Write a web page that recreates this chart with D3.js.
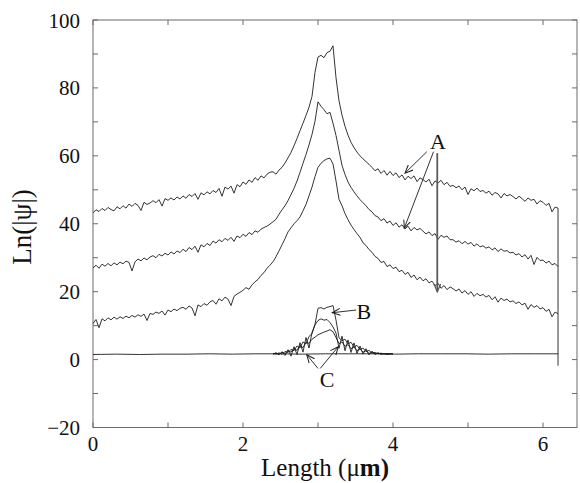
<!DOCTYPE html>
<html><head><meta charset="utf-8">
<script src="https://cdn.jsdelivr.net/npm/d3@7"></script>
<style>
html,body{margin:0;padding:0;background:#fff;}
svg{display:block;font-family:"Liberation Serif","Times New Roman",serif;}
</style></head>
<body><svg id="chart" width="580" height="483"></svg>
<script>
// ---------- data ----------
const xStep = 0.04;           // sample spacing of the main curves (µm)
const xTicks = [0, 2, 4, 6];
const yTicks = [-20, 0, 20, 40, 60, 80, 100];

const curveTop = [
 43.2,44.1,43.6,44.5,43.9,44.8,44.2,43.8,45.0,44.4,
 45.3,44.6,45.8,45.1,46.0,45.4,43.9,46.3,45.7,46.1,
 46.8,46.2,47.1,45.2,47.4,46.9,47.6,47.0,47.9,47.3,
 48.2,47.5,48.6,48.0,48.9,47.2,49.1,48.5,49.4,48.8,
 49.8,49.2,50.4,48.1,50.8,50.2,51.1,49.0,51.5,50.9,
 52.3,51.6,52.9,52.2,53.6,52.8,54.1,53.5,54.6,55.2,
 55.3,54.6,55.8,56.6,57.9,59.4,61.0,63.0,65.1,67.4,
 69.6,71.9,74.3,77.5,84.6,89.1,89.6,88.9,90.4,90.8,
 92.4,83.0,76.2,72.0,68.7,66.1,64.0,62.4,61.1,60.0,
 59.1,58.3,57.5,56.6,55.6,56.2,54.8,55.7,54.3,55.4,
 54.2,55.0,53.6,54.4,52.9,54.0,53.3,54.1,52.4,53.5,
 53.0,52.3,53.1,51.2,52.6,52.0,52.8,51.5,52.2,51.0,
 51.3,50.6,51.1,50.0,50.8,48.6,50.3,49.7,50.5,49.5,
 49.8,49.0,49.6,48.4,49.2,48.8,47.6,48.9,48.2,48.6,
 48.0,47.3,48.1,47.4,46.6,47.6,46.9,47.2,45.8,46.8,
 46.3,45.4,46.0,43.5,44.9,44.6
];
const curveMid = [
 27.0,27.8,26.9,28.1,27.5,28.3,27.6,28.5,27.9,28.7,
 28.2,29.0,28.6,26.1,28.8,29.6,29.1,29.9,29.4,30.2,
 30.6,30.0,31.0,30.5,31.3,30.8,31.7,31.1,32.0,31.5,
 32.5,31.8,33.0,32.4,33.4,31.6,33.8,33.2,34.2,33.6,
 34.9,34.3,35.3,34.7,35.7,35.1,36.0,34.8,36.4,35.9,
 36.9,36.3,37.4,36.8,37.9,37.5,38.4,38.9,39.3,39.9,
 40.6,41.3,42.8,44.1,45.3,46.8,48.6,50.4,52.6,55.1,
 57.8,60.4,63.2,66.3,70.2,75.9,74.6,73.6,72.4,72.8,
 69.6,66.0,61.6,57.2,54.5,52.3,50.7,49.4,48.2,47.1,
 46.2,45.3,44.2,43.5,42.4,42.0,40.9,41.5,40.2,40.8,
 39.5,40.3,39.0,39.7,38.5,39.3,37.9,38.9,38.2,38.6,
 37.8,37.0,37.6,36.5,37.1,35.4,36.6,36.0,36.4,35.3,
 35.3,34.6,35.0,34.1,34.8,34.0,34.5,33.4,34.1,33.2,
 33.5,32.8,33.2,32.3,32.9,31.8,32.6,31.9,32.1,31.4,
 31.6,30.8,31.2,30.2,30.9,29.6,30.7,28.0,30.1,29.2,
 29.3,28.4,29.0,27.9,28.3,27.4
];
const curveLow = [
 10.6,11.8,9.4,12.0,11.4,12.3,11.7,12.5,11.9,12.6,
 12.1,12.8,12.3,13.0,12.5,13.2,12.7,13.4,11.5,13.6,
 13.3,14.0,13.6,14.3,13.1,14.6,14.1,14.9,14.4,15.1,
 15.4,14.8,15.8,15.2,12.9,16.1,15.6,16.5,16.0,17.0,
 17.4,16.3,17.9,17.3,18.4,17.8,15.9,18.6,19.3,19.8,
 20.4,21.2,20.7,22.0,22.9,23.6,24.8,25.6,26.9,27.8,
 28.8,30.3,32.0,33.8,35.6,37.6,38.8,40.0,40.9,42.0,
 43.8,45.7,48.2,50.8,53.9,56.6,57.8,58.6,59.1,59.3,
 57.6,52.6,47.2,45.3,43.0,41.2,39.6,38.3,37.1,36.0,
 34.4,33.6,32.4,31.6,30.4,29.8,28.6,28.9,27.4,27.9,
 26.8,27.2,25.9,26.3,25.1,25.7,24.2,24.9,23.5,24.3,
 23.2,23.8,22.6,23.1,21.8,22.5,21.0,21.8,20.6,21.4,
 20.9,20.2,20.8,19.6,20.3,19.2,20.0,18.6,19.5,18.8,
 19.2,18.4,18.9,17.6,18.5,16.9,18.1,17.4,17.8,17.0,
 17.3,16.5,17.0,16.1,16.6,14.8,16.2,15.4,15.9,14.9,
 15.3,14.2,14.8,12.6,14.0,13.5
];

// flat baseline curve (sampled every 0.31 µm from 0 to 6.2)
const baseStep = 0.31;
const baseline = [1.5,1.6,1.5,1.6,1.6,1.7,1.6,1.7,1.7,1.6,1.7,1.7,1.7,1.6,1.7,1.7,1.7,1.6,1.7,1.7,1.7];

// bumps of the low curves, sampled every 0.04 µm from 2.40 to 4.00
const bumpStart = 2.40;
const curveB = [
 1.8,1.6,2.0,1.5,2.4,2.1,3.0,2.6,4.0,3.4,
 5.2,4.6,6.8,7.6,10.4,15.1,15.3,14.9,15.4,15.6,
 15.9,11.6,6.4,5.6,6.0,4.6,5.1,3.7,4.2,3.0,
 3.4,2.4,2.7,1.9,2.1,1.7,1.9,1.6,1.8,1.7,1.7
];
const curveC1 = [
 1.7,1.9,1.5,2.2,1.8,2.6,2.2,3.3,2.7,4.2,
 3.5,5.1,4.8,6.0,6.6,7.3,7.7,8.1,8.4,8.8,
 8.2,6.5,4.7,5.2,3.9,4.4,3.2,3.7,2.6,3.1,
 2.2,2.6,1.8,2.1,1.7,1.9,1.6,1.8,1.6,1.7,1.7
];
const curveC2 = [
 1.6,2.0,1.4,2.3,1.2,2.9,1.0,3.8,1.5,5.0,
 2.2,6.5,3.4,8.0,10.2,11.5,12.0,11.6,11.8,10.9,
 9.6,7.8,3.3,6.9,2.6,5.8,2.1,4.9,1.8,4.0,
 1.6,3.2,1.4,2.5,1.5,2.0,1.6,1.8,1.5,1.7,1.7
];

// vertical line at the end of the computational window
const endLineX = 6.2;
const endLineY = [44.6, -1.8];

// annotations (data coordinates)
const labels = [
 {text:"A", x:4.60, y:64.2},
 {text:"B", x:3.61, y:14.1},
 {text:"C", x:3.12, y:-6.0}
];
const arrows = [
 {x1:4.45, y1:61.2, x2:4.16, y2:54.9, heavy:false},
 {x1:4.54, y1:61.2, x2:4.15, y2:38.7, heavy:false},
 {x1:4.59, y1:60.8, x2:4.59, y2:20.0, heavy:true},
 {x1:3.51, y1:14.6, x2:3.19, y2:13.8, heavy:false},
 {x1:3.00, y1:-2.6, x2:2.85, y2:1.4, heavy:false},
 {x1:3.03, y1:-2.6, x2:3.27, y2:3.8, heavy:false}
];

// ---------- drawing ----------
const svg = d3.select("#chart");
const L = 93, R = 577, T = 20, B = 427.5;
const x = d3.scaleLinear().domain([0, 6.453]).range([L, R]);
const y = d3.scaleLinear().domain([-20, 100]).range([B, T]);

const frameColor = "#6a6a6a";
const ink = "#1c1c1c";

// frame
svg.append("rect").attr("x", L).attr("y", T).attr("width", R - L).attr("height", B - T)
  .attr("fill", "none").attr("stroke", frameColor).attr("stroke-width", 1);

// inward ticks
const yTickAll = d3.range(-20, 101, 10);
const xTickAll = d3.range(0, 7, 1);
const tg = svg.append("g").attr("stroke", frameColor).attr("stroke-width", 1);
yTickAll.forEach(v => {
  tg.append("line").attr("x1", L).attr("x2", L + 5).attr("y1", y(v)).attr("y2", y(v));
  tg.append("line").attr("x1", R).attr("x2", R - 5).attr("y1", y(v)).attr("y2", y(v));
});
xTickAll.forEach(v => {
  tg.append("line").attr("x1", x(v)).attr("x2", x(v)).attr("y1", B).attr("y2", B - 5);
  tg.append("line").attr("x1", x(v)).attr("x2", x(v)).attr("y1", T).attr("y2", T + 5);
});

// tick labels
const fmt = d3.format("d");
svg.append("g").selectAll("text").data(yTicks).join("text")
  .attr("x", 80).attr("y", d => y(d) + 7.5)
  .attr("text-anchor", "end").attr("font-size", 21).attr("fill", "#111")
  .text(d => fmt(d));
svg.append("g").selectAll("text").data(xTicks).join("text")
  .attr("x", d => x(d)).attr("y", 450.5)
  .attr("text-anchor", "middle").attr("font-size", 21).attr("fill", "#111")
  .text(d => fmt(d));

// axis titles
const xt = svg.append("text").attr("x", 325).attr("y", 476)
  .attr("text-anchor", "middle").attr("font-size", 25).attr("fill", "#111");
xt.append("tspan").text("Length (\u03bc");
xt.append("tspan").attr("font-weight", "bold").text("m)");
svg.append("text").attr("transform", "translate(31,227) rotate(-90)")
  .attr("text-anchor", "middle").attr("font-size", 27).attr("fill", "#111")
  .text("Ln(|\u03c8|)");

// curves
const line = d3.line().x(d => x(d[0])).y(d => y(d[1]));
const grid = (vals, x0, step) => vals.map((v, i) => [x0 + i * step, v]);
const cg = svg.append("g").attr("fill", "none").attr("stroke", ink)
  .attr("stroke-width", 0.9).attr("stroke-linejoin", "round");

cg.append("path").attr("d", line(grid(baseline, 0, baseStep)));
[curveB, curveC1, curveC2].forEach(c =>
  cg.append("path").attr("d", line(grid(c, bumpStart, xStep))));
[curveTop, curveMid, curveLow].forEach(c =>
  cg.append("path").attr("d", line(grid(c, 0, xStep))));
cg.append("path").attr("d", line(endLineY.map(v => [endLineX, v])));

// arrow markers
const defs = svg.append("defs");
defs.append("marker").attr("id", "ah").attr("markerUnits", "userSpaceOnUse")
  .attr("markerWidth", 10).attr("markerHeight", 10)
  .attr("refX", 8).attr("refY", 4).attr("orient", "auto")
  .append("path").attr("d", "M0,0.5 L8,4 L0,7.5").attr("fill", "none")
  .attr("stroke", ink).attr("stroke-width", 1);
defs.append("marker").attr("id", "ahg").attr("markerUnits", "userSpaceOnUse")
  .attr("markerWidth", 10).attr("markerHeight", 10)
  .attr("refX", 8).attr("refY", 4).attr("orient", "auto")
  .append("path").attr("d", "M0,0.5 L8,4 L0,7.5").attr("fill", "none")
  .attr("stroke", "#555").attr("stroke-width", 1.2);

svg.append("g").selectAll("line").data(arrows).join("line")
  .attr("x1", d => x(d.x1)).attr("y1", d => y(d.y1))
  .attr("x2", d => x(d.x2)).attr("y2", d => y(d.y2))
  .attr("stroke", d => d.heavy ? "#5a5a5a" : ink)
  .attr("stroke-width", d => d.heavy ? 1.8 : 0.9)
  .attr("marker-end", d => d.heavy ? "url(#ahg)" : "url(#ah)");

svg.append("g").selectAll("text").data(labels).join("text")
  .attr("x", d => x(d.x)).attr("y", d => y(d.y) + 7.5)
  .attr("text-anchor", "middle").attr("font-size", 22).attr("fill", "#111")
  .text(d => d.text);
</script>
</body></html>
